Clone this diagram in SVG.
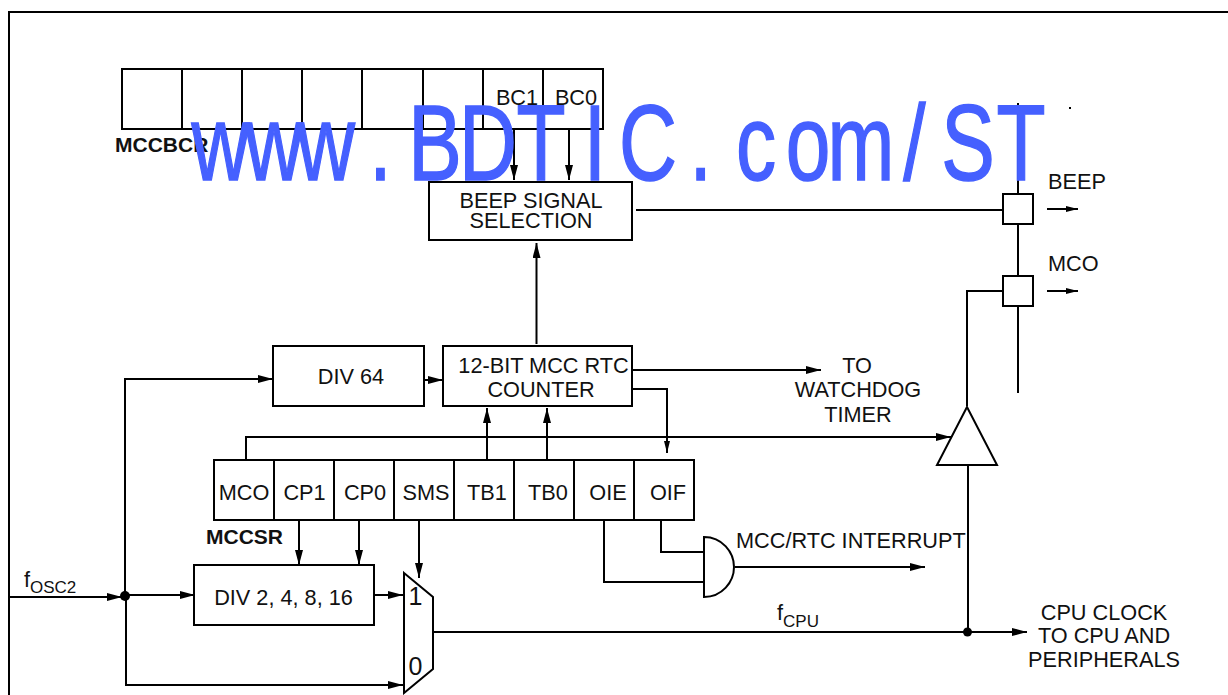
<svg xmlns="http://www.w3.org/2000/svg" width="1228" height="695" viewBox="0 0 1228 695">
<style>
text{font-family:"Liberation Sans",Arial,sans-serif;font-size:21.700px;fill:#111}
.m{text-anchor:middle}
.b{font-weight:bold;font-size:21px}
.s{font-size:17px}
.box{fill:#fff;stroke:#000;stroke-width:2}
.c{fill:none;stroke:#000;stroke-width:2}
.wm{font-size:107px;fill:#4560ff;stroke:#4560ff;stroke-width:1.500px}
</style>
<defs>
<marker id="a" markerUnits="userSpaceOnUse" markerWidth="16" markerHeight="10" refX="15" refY="4" orient="auto"><path d="M0 0L15 4L0 8z" fill="#000"/></marker>
<marker id="n" markerUnits="userSpaceOnUse" markerWidth="13" markerHeight="8" refX="12" refY="3" orient="auto"><path d="M0 0L12 3L0 6z" fill="#000"/></marker>
</defs>
<rect width="1228" height="695" fill="#fff"/>
<path d="M9 695V12H1228" class="c"/>
<g id="connectors">
<path class="c" d="M10 597H122" marker-end="url(#a)"/>
<path class="c" d="M125 596V379H273" marker-end="url(#a)"/>
<path class="c" d="M126 595H195" marker-end="url(#a)"/>
<path class="c" d="M126 597V685H403" marker-end="url(#a)"/>
<path class="c" d="M375 595H403" marker-end="url(#a)"/>
<path class="c" d="M424 380H443" marker-end="url(#a)"/>
<path class="c" d="M299 521V565" marker-end="url(#a)"/>
<path class="c" d="M359 521V565" marker-end="url(#a)"/>
<path class="c" d="M419 521V578" marker-end="url(#a)"/>
<path class="c" d="M487 459V408" marker-end="url(#a)"/>
<path class="c" d="M547 459V408" marker-end="url(#a)"/>
<path class="c" d="M246 459V437H951" marker-end="url(#a)"/>
<path class="c" d="M633 389H667V453" marker-end="url(#n)"/>
<path class="c" d="M633 370H821" marker-end="url(#a)"/>
<path class="c" d="M536.500 344V243" marker-end="url(#a)"/>
<path class="c" d="M514 129V180" marker-end="url(#a)"/>
<path class="c" d="M569 129V180" marker-end="url(#a)"/>
<path class="c" d="M636 210H1003"/>
<path class="c" d="M1018 103V194M1018 224V276M1018 306V393"/>
<path class="c" d="M967 406V291H1003"/>
<path class="c" d="M968 465V632"/>
<path class="c" d="M434 632H1027" marker-end="url(#a)"/>
<path class="c" d="M661 520V552H704"/>
<path class="c" d="M604 520V582H704"/>
<path class="c" d="M735 567H925" marker-end="url(#a)"/>
<path class="c" d="M1047 209H1078" marker-end="url(#n)"/>
<path class="c" d="M1047 291H1078" marker-end="url(#n)"/>
<circle cx="125" cy="596" r="5" fill="#000"/>
<circle cx="967.500" cy="632" r="4.500" fill="#000"/>
</g>
<g id="MCCBCR">
<rect class="box" x="122" y="69" width="481" height="60"/>
<path class="c" d="M182 69V129M242 69V129M302 69V129M362 69V129M423 69V129M483 69V129M543 69V129"/>
<text class="m" x="517" y="105">BC1</text>
<text class="m" x="576" y="105">BC0</text>
<text class="b" x="115" y="152">MCCBCR</text>
</g>
<g id="beep-selection">
<rect class="box" x="429" y="182" width="203" height="58"/>
<text class="m" x="531" y="208">BEEP SIGNAL</text>
<text class="m" x="531" y="228">SELECTION</text>
</g>
<g id="beep-pad">
<rect class="box" x="1003" y="194" width="30" height="30"/>
<text x="1048" y="189">BEEP</text>
</g>
<g id="mco-pad">
<rect class="box" x="1003" y="276" width="30" height="30"/>
<text x="1048" y="271">MCO</text>
</g>
<g id="div64">
<rect class="box" x="273" y="346" width="151" height="60"/>
<text class="m" x="351" y="384">DIV 64</text>
</g>
<g id="counter">
<rect class="box" x="443" y="346" width="189" height="60"/>
<text class="m" x="543.500" y="373">12-BIT MCC RTC</text>
<text class="m" x="541" y="397">COUNTER</text>
</g>
<g id="watchdog">
<text class="m" x="857" y="373">TO</text>
<text class="m" x="858" y="397">WATCHDOG</text>
<text class="m" x="858" y="422">TIMER</text>
</g>
<g id="buffer">
<path class="box" d="M967 407L997 465H937z"/>
</g>
<g id="MCCSR">
<rect class="box" x="214" y="460" width="480" height="60"/>
<path class="c" d="M274 460V520M334 460V520M394 460V520M454 460V520M514 460V520M574 460V520M634 460V520"/>
<text class="m" x="244" y="500">MCO</text>
<text class="m" x="304.500" y="500">CP1</text>
<text class="m" x="365" y="500">CP0</text>
<text class="m" x="426" y="500">SMS</text>
<text class="m" x="487" y="500">TB1</text>
<text class="m" x="548" y="500">TB0</text>
<text class="m" x="608" y="500">OIE</text>
<text class="m" x="668" y="500">OIF</text>
<text class="b" x="206" y="544">MCCSR</text>
</g>
<g id="div2-16">
<rect class="box" x="194" y="565" width="180" height="60"/>
<text class="m" x="283.500" y="605">DIV 2, 4, 8, 16</text>
</g>
<g id="mux">
<path class="box" d="M404 573L433 597V669L404 693z"/>
<text class="m" x="415.500" y="605" style="font-size:25px">1</text>
<text class="m" x="415.500" y="675" style="font-size:25px">0</text>
</g>
<g id="and-gate">
<path class="box" d="M704 537C722 537 734 552 734 567C734 582 722 597 704 597z"/>
</g>
<g id="labels">
<text x="736" y="548">MCC/RTC INTERRUPT</text>
<text x="24" y="587">f<tspan class="s" dy="6">OSC2</tspan></text>
<text x="777" y="620">f<tspan class="s" dy="7">CPU</tspan></text>
<text class="m" x="1104" y="620">CPU CLOCK</text>
<text class="m" x="1104" y="643">TO CPU AND</text>
<text class="m" x="1104" y="667">PERIPHERALS</text>
</g>
<rect x="1069" y="107" width="2" height="2" fill="#000"/>
<g transform="scale(.75 1)"><text class="wm" y="180" x="255.300 326.700 396 492.400 544.300 612 688.700 778.500 825.300 919.200 981.200 1047.600 1103.500 1204.500 1254.900 1328.700">www.BDTIC.com/ST</text></g>
</svg>
